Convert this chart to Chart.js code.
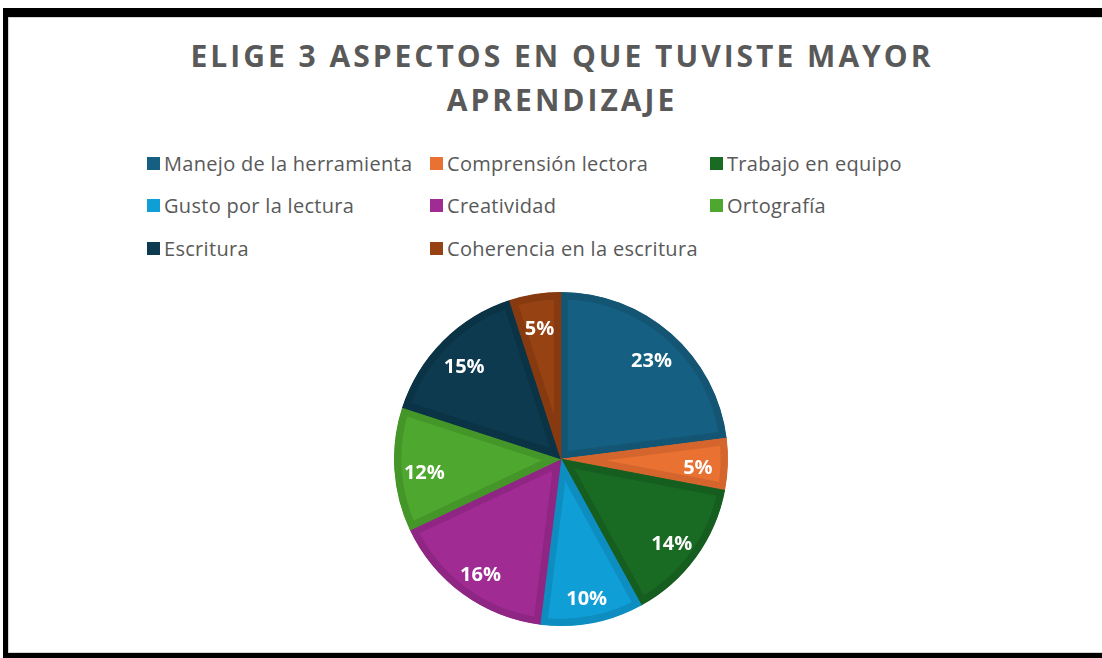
<!DOCTYPE html>
<html lang="es">
<head>
<meta charset="utf-8">
<title>Aspectos de aprendizaje</title>
<script src="https://cdn.jsdelivr.net/npm/chart.js@4/dist/chart.umd.min.js"></script>
<style>
  html, body { margin: 0; padding: 0; background: #fff; }
  body { width: 1102px; height: 658px; position: relative; overflow: hidden; font-family: "Open Sans", sans-serif; }
  #marco {
    position: absolute; left: 3px; top: 8px; width: 1200px; height: 636px;
    border-left: 5px solid #000; border-top: 9px solid #000; border-bottom: 6px solid #000;
  }
  #interior { position: absolute; left: 0; top: 0; right: 0; bottom: 0; border: 1px solid #d4d4d4; border-right: none; }
  #titulo {
    position: absolute; left: 22px; width: 1080px; top: 34px; margin: 0;
    text-align: center; color: #595959; font-weight: 700; font-size: 30px;
    line-height: 44px; letter-spacing: 3px;
  }
  #leyenda { position: absolute; left: 147px; top: 150px; }
  .item { position: absolute; display: flex; align-items: center; white-space: nowrap;
          color: #595959; font-size: 20px; letter-spacing: 0.3px; height: 26px; }
  .item span.caja { width: 13px; height: 13px; margin-right: 4px; display: inline-block; }
  #pastel { position: absolute; left: 391px; top: 289px; width: 340px; height: 340px; }
</style>
</head>
<body>
<div id="marco"><div id="interior"></div></div>
<h1 id="titulo">ELIGE 3 ASPECTOS EN QUE TUVISTE MAYOR<br>APRENDIZAJE</h1>
<div id="leyenda"></div>
<div id="pastel"><canvas id="graf"></canvas></div>

<script>
// Datos de la encuesta (porcentajes)
const categorias = [
  "Manejo de la herramienta",
  "Comprensión lectora",
  "Trabajo en equipo",
  "Gusto por la lectura",
  "Creatividad",
  "Ortografía",
  "Escritura",
  "Coherencia en la escritura"
];
const porcentajes = [23, 5, 14, 10, 16, 12, 15, 5];
const colores = ["#156082", "#E97132", "#196B24", "#0F9ED5", "#A02B93", "#4EA72E", "#0D3A4E", "#974212"];
const bordes  = ["#135573", "#D4652C", "#165E20", "#0D8DC0", "#8F2684", "#459628", "#0B3346", "#873A10"];

// Leyenda en tres columnas
const leyenda = document.getElementById("leyenda");
const colX = [0, 283, 563];
categorias.forEach((nombre, i) => {
  const d = document.createElement("div");
  d.className = "item";
  d.style.left = colX[i % 3] + "px";
  d.style.top = Math.floor(i / 3) * 42.5 + "px";
  d.innerHTML = `<span class="caja" style="background:${colores[i]}"></span>${nombre}`;
  leyenda.appendChild(d);
});

// Etiquetas de porcentaje dentro de cada porción
const etiquetas = {
  id: "etiquetas",
  afterDatasetsDraw(chart) {
    const ctx = chart.ctx;
    const meta = chart.getDatasetMeta(0);
    ctx.save();
    ctx.fillStyle = "#fff";
    ctx.font = "bold 20px 'Open Sans', sans-serif";
    ctx.textAlign = "center";
    ctx.textBaseline = "alphabetic";
    meta.data.forEach((arc, i) => {
      const p = arc.getProps(["x", "y", "startAngle", "endAngle", "outerRadius"], true);
      const a = (p.startAngle + p.endAngle) / 2;
      const r = p.outerRadius * 0.82;
      ctx.fillText(porcentajes[i] + "%", p.x + Math.cos(a) * r, p.y + Math.sin(a) * r + 11);
    });
    ctx.restore();
  }
};

new Chart(document.getElementById("graf"), {
  type: "pie",
  data: {
    labels: categorias,
    datasets: [{
      data: porcentajes,
      backgroundColor: colores,
      borderColor: bordes,
      borderWidth: 7,
      borderAlign: "inner",
      hoverOffset: 0
    }]
  },
  options: {
    responsive: true,
    maintainAspectRatio: false,
    animation: false,
    radius: 167,
    plugins: { legend: { display: false }, tooltip: { enabled: false } }
  },
  plugins: [etiquetas]
});
</script>
</body>
</html>
